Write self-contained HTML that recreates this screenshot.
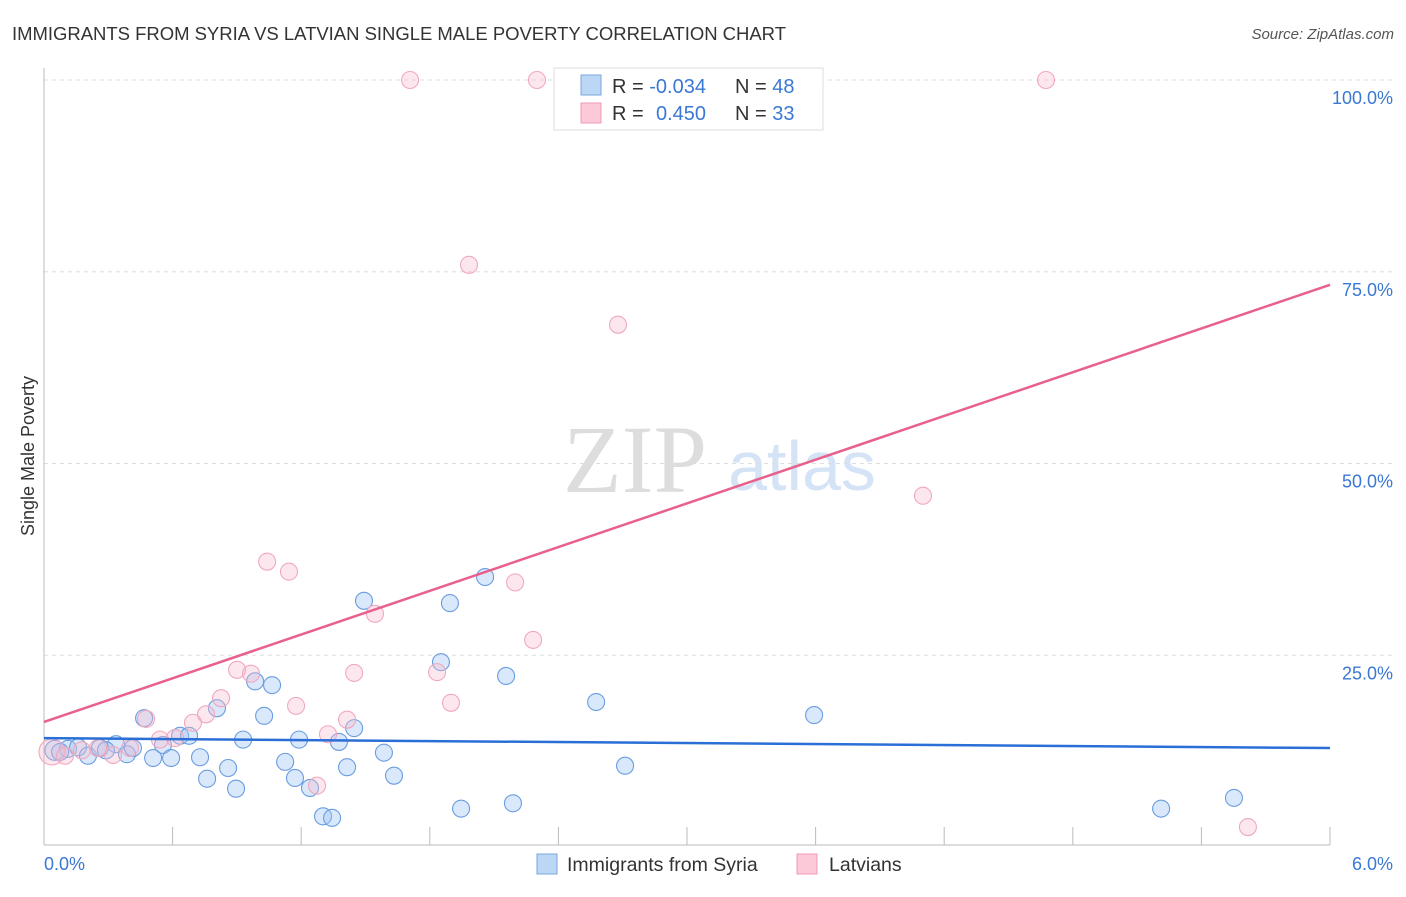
<!DOCTYPE html>
<html><head><meta charset="utf-8"><style>
body{margin:0;background:#fff;font-family:"Liberation Sans",sans-serif}
svg text{font-family:"Liberation Sans",sans-serif}
</style></head><body>
<svg id="c" width="1406" height="892">
<text x="12" y="40" font-size="18.5" fill="#333" textLength="774">IMMIGRANTS FROM SYRIA VS LATVIAN SINGLE MALE POVERTY CORRELATION CHART</text>
<text x="1394" y="39" font-size="15" fill="#555" text-anchor="end" font-style="italic">Source: ZipAtlas.com</text>
<text x="635" y="492" font-size="96" fill="#ddd" text-anchor="middle" font-family="Liberation Serif" style="font-family:'Liberation Serif',serif">ZIP</text>
<text x="802" y="490" font-size="70" fill="#d4e3f5" text-anchor="middle">atlas</text>
<g id="grid"></g>
<g id="marks"></g>
<text transform="translate(34,456) rotate(-90)" font-size="18" fill="#333" text-anchor="middle">Single Male Poverty</text>
<text x="44" y="870" font-size="18" fill="#3a78d4">0.0%</text>
<text x="1393" y="870" font-size="18" fill="#3a78d4" text-anchor="end">6.0%</text>
<g>
<rect x="554" y="68" width="269" height="62" fill="#fff" stroke="#ddd"/>
<rect x="581" y="75" width="20" height="20" fill="#bcd6f5" stroke="#7aa7e0"/>
<rect x="581" y="103" width="20" height="20" fill="#fbc9d8" stroke="#f09ab5"/>
<text x="612" y="93" font-size="20" fill="#333">R = <tspan fill="#3a78d4">-0.034</tspan><tspan x="735">N = </tspan><tspan fill="#3a78d4">48</tspan></text>
<text x="612" y="120" font-size="20" fill="#333">R = <tspan x="656" fill="#3a78d4">0.450</tspan><tspan x="735">N = </tspan><tspan fill="#3a78d4">33</tspan></text>
</g>
<g>
<rect x="537" y="854" width="20" height="20" fill="#bcd6f5" stroke="#7aa7e0"/>
<text x="567" y="871" font-size="19.5" fill="#333">Immigrants from Syria</text>
<rect x="797" y="854" width="20" height="20" fill="#fbc9d8" stroke="#f09ab5"/>
<text x="829" y="871" font-size="19.5" fill="#333">Latvians</text>
</g>
</svg>
<script>
const yTicks=[25,50,75,100];
const yTickLabels=["25.0%","50.0%","75.0%","100.0%"];
const xTicks=[0.6,1.2,1.8,2.4,3.0,3.6,4.2,4.8,5.4,6.0];
const blueX=[0.051,0.112,0.159,0.205,0.261,0.336,0.387,0.415,0.467,0.509,0.555,0.593,0.635,0.677,0.728,0.761,0.807,0.859,0.896,0.929,0.985,1.027,1.064,1.125,1.171,1.190,1.241,1.302,1.344,1.376,1.414,1.447,1.493,1.586,1.633,1.852,1.894,1.946,2.058,2.156,2.188,2.576,2.711,3.593,5.212,5.552,0.075,0.289];
const blueY=[12.6,12.8,13.0,11.9,12.9,13.4,12.1,12.9,16.8,11.6,13.3,11.6,14.5,14.5,11.7,8.9,18.1,10.3,7.6,14.0,21.6,17.1,21.1,11.1,9.0,14.0,7.7,4.0,3.8,13.7,10.4,15.5,32.1,12.3,9.3,24.1,31.8,5.0,35.2,22.3,5.7,18.9,10.6,17.2,5.0,6.4,12.4,12.6];
const pinkX=[0.037,0.098,0.252,0.322,0.401,0.476,0.541,0.611,0.695,0.756,0.826,0.901,0.966,1.041,1.143,1.176,1.325,1.274,1.414,1.447,1.544,1.708,1.834,1.899,1.983,2.198,2.282,2.300,2.678,4.101,4.675,5.617,0.177];
const pinkY=[12.4,11.9,12.9,12.0,12.9,16.7,14.0,14.2,16.2,17.3,19.4,23.1,22.6,37.2,35.9,18.4,14.7,8.0,16.6,22.7,30.4,100,22.8,18.8,75.9,34.5,27.0,100,68.1,45.8,100,2.6,12.6];
const blueTrend=[14.2,12.9];
const pinkTrend=[16.3,73.3];
const X=p=>44+p/6*1286, Y=v=>847-v*7.67;
const NS="http://www.w3.org/2000/svg";
function mk(t,a,parent){const e=document.createElementNS(NS,t);for(const k in a)e.setAttribute(k,a[k]);parent.appendChild(e);return e;}
const g=document.getElementById('grid'), m=document.getElementById('marks');
yTicks.forEach((v,i)=>{
 const l=mk('line',{x1:44,x2:1394,y1:Y(v),y2:Y(v),stroke:'#ddd','stroke-dasharray':'4,4'},g);
 
 
 const t=mk('text',{x:1393,y:Y(v)+24,'font-size':18,fill:'#3a78d4','text-anchor':'end'},g);
 t.textContent=yTickLabels[i];
 
 
});
const ax=mk('line',{x1:44,x2:44,y1:68,y2:845,stroke:'#bbb'},g);


const bx=mk('line',{x1:44,x2:1330,y1:845,y2:845,stroke:'#bbb'},g);


xTicks.forEach(p=>{
 const l=mk('line',{x1:X(p),x2:X(p),y1:827,y2:845,stroke:'#bbb'},g);
 
 
});
blueX.forEach((p,i)=>{
 const c=mk('circle',{cx:X(p),cy:Y(blueY[i]),r:i==0?10:8.5,fill:'rgba(160,198,242,0.4)',stroke:'#6a9de0','stroke-width':1.1},m);
 
 
});
pinkX.forEach((p,i)=>{
 const c=mk('circle',{cx:X(p),cy:Y(pinkY[i]),r:i==0?13:8.5,fill:'rgba(248,185,205,0.35)',stroke:'#f0a8be','stroke-width':1.1},m);
 
 
});
const bl=mk('line',{x1:X(0),x2:X(6),y1:Y(blueTrend[0]),y2:Y(blueTrend[1]),stroke:'#2a6fd6','stroke-width':2.5},m);


const pl=mk('line',{x1:X(0),x2:X(6),y1:Y(pinkTrend[0]),y2:Y(pinkTrend[1]),stroke:'#e8608c','stroke-width':2.5},m);


</script>
</body></html>
